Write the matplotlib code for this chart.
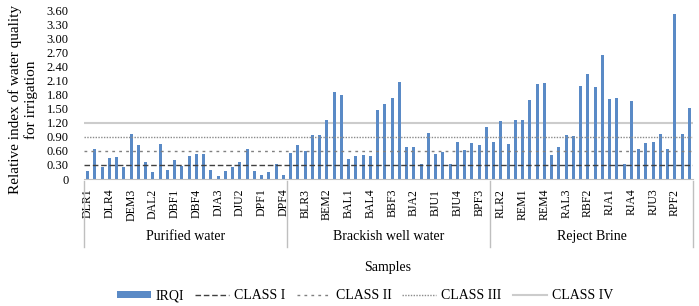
import matplotlib
matplotlib.use("Agg")
import matplotlib.pyplot as plt
import matplotlib.transforms as mtransforms
from matplotlib.lines import Line2D
import numpy as np

plt.rcParams['font.family'] = ['Liberation Serif', 'DejaVu Serif']

# sample codes per site, 4 samples each
sites = ["LR", "EM", "AL", "BF", "JA", "JU", "PF"]
groups = ["Purified water", "Brackish well water", "Reject Brine"]
prefixes = ["D", "B", "R"]

purified = [0.17, 0.65, 0.25, 0.44, 0.47, 0.26, 0.97, 0.72,
            0.37, 0.16, 0.75, 0.20, 0.40, 0.27, 0.50, 0.53,
            0.53, 0.20, 0.07, 0.17, 0.26, 0.36, 0.65, 0.18,
            0.08, 0.16, 0.33, 0.08]
brackish = [0.55, 0.73, 0.60, 0.93, 0.95, 1.27, 1.86, 1.79,
            0.43, 0.50, 0.52, 0.50, 1.48, 1.60, 1.74, 2.07,
            0.68, 0.68, 0.32, 0.98, 0.54, 0.57, 0.32, 0.80,
            0.63, 0.76, 0.72, 1.12]
reject = [0.80, 1.23, 0.75, 1.27, 1.27, 1.68, 2.02, 2.06,
          0.52, 0.68, 0.95, 0.91, 1.98, 2.25, 1.96, 2.64,
          1.70, 1.73, 0.31, 1.66, 0.65, 0.76, 0.79, 0.96,
          0.65, 3.53, 0.96, 1.51]

class_levels = [0.30, 0.60, 0.90, 1.20]
class_names = ["CLASS I", "CLASS II", "CLASS III", "CLASS IV"]

labels = [p + s + str(k) for p in prefixes for s in sites for k in range(1, 5)]
values = purified + brackish + reject
x = np.arange(len(values))

fig = plt.figure(figsize=(6.99, 3.06), dpi=100)
ax = fig.add_axes([84 / 699, 127 / 306, 609 / 699, 168.5 / 306])

ax.bar(x, values, width=0.4, color="#5A8AC6", label="IRQI", zorder=2)

ax.axhline(class_levels[0], color="#404040", lw=1.0, ls=(0, (4, 2)), label=class_names[0], zorder=3)
ax.axhline(class_levels[1], color="#808080", lw=1.0, ls=(0, (2, 3)), label=class_names[1], zorder=3)
ax.axhline(class_levels[2], color="#8a8a8a", lw=1.0, ls=(0, (1, 1)), label=class_names[2], zorder=3)
ax.axhline(class_levels[3], color="#cccccc", lw=1.5, ls="-", label=class_names[3], zorder=1)

ax.set_xlim(-0.5, len(values) - 0.5)
ax.set_ylim(0, 3.6)
yt = np.arange(0, 3.61, 0.3)
ax.set_yticks(yt)
ax.set_yticklabels(["0"] + ["%.2f" % v for v in yt[1:]], fontsize=9)
ax.set_xticks(x[::3])
ax.set_xticklabels(labels[::3], rotation=90, fontsize=8.5)
ax.tick_params(axis="both", length=0)
ax.tick_params(axis="y", pad=11)
ax.tick_params(axis="x", pad=7)

for s in ["top", "right", "left"]:
    ax.spines[s].set_visible(False)
ax.spines["bottom"].set_color("#bfbfbf")

# group labels and separators below the axis
trans = mtransforms.blended_transform_factory(ax.transData, fig.transFigure)
bounds = [-0.5, 27.5, 55.5, 83.5]
for b in bounds:
    fig.add_artist(Line2D([b, b], [0.408, 0.193], transform=trans, color="#bfbfbf", lw=1.0))
for i, g in enumerate(groups):
    ax.text((bounds[i] + bounds[i + 1]) / 2, 0.2255, g, transform=trans,
            ha="center", va="center", fontsize=10)

fig.text(388 / 699, 0.127, "Samples", ha="center", va="center", fontsize=10)
fig.text(23 / 699, (306 - 100) / 306, "Relative index of water quality\nfor irrigation",
         rotation=90, ha="center", va="center", fontsize=11, multialignment="center",
         linespacing=1.15)

h, l = ax.get_legend_handles_labels()
order = [l.index("IRQI")] + [l.index(n) for n in class_names]
fig.legend([h[i] for i in order], [l[i] for i in order], loc="center",
           bbox_to_anchor=(0.522, 0.033), ncol=5, frameon=False, fontsize=10,
           handlelength=2.45, handleheight=0.4, columnspacing=0.8, handletextpad=0.35)

fig.savefig("out.png", dpi=100)
